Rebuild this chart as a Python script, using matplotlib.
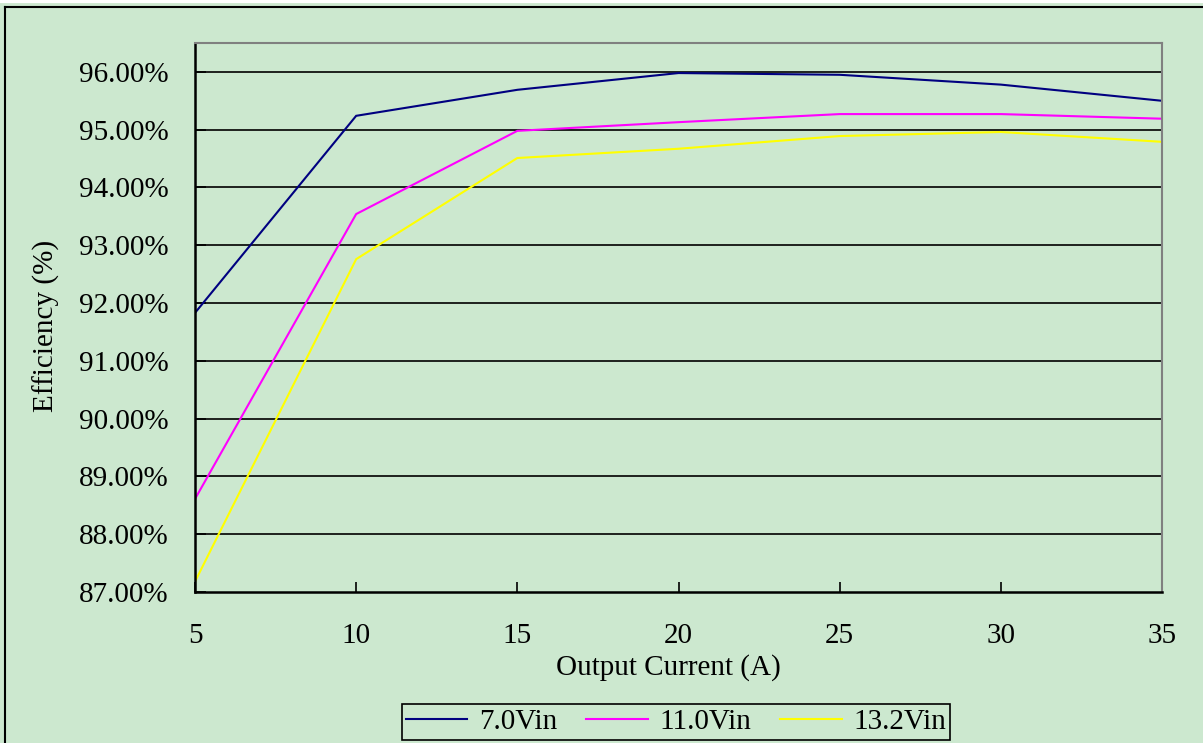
import matplotlib
matplotlib.use("Agg")
import matplotlib.pyplot as plt
from matplotlib.lines import Line2D
from matplotlib.ticker import FuncFormatter

current = [5, 10, 15, 20, 25, 30, 35]
eff_7v0 = [91.83, 95.24, 95.69, 95.98, 95.95, 95.78, 95.50]
eff_11v0 = [88.61, 93.54, 94.98, 95.13, 95.27, 95.27, 95.19]
eff_13v2 = [87.18, 92.76, 94.51, 94.67, 94.89, 94.96, 94.79]
series_labels = ["7.0Vin", "11.0Vin", "13.2Vin"]
series_colors = ["#000080", "#FF00FF", "#FFFF00"]
y_ticks = [87, 88, 89, 90, 91, 92, 93, 94, 95, 96]
x_ticks = [5, 10, 15, 20, 25, 30, 35]

bg = "#CCE8CF"
font = "Liberation Serif"
fs = 21

plt.rcParams["font.family"] = [font, "DejaVu Serif"]

fig = plt.figure(figsize=(12.03, 7.43), dpi=100, facecolor=bg)
W, H = 1203, 743
ax = fig.add_axes([195 / W, 1 - 592 / H, (1162 - 195) / W, (592 - 43) / H])
ax.set_facecolor(bg)

for ys, lab, col in zip([eff_7v0, eff_11v0, eff_13v2], series_labels, series_colors):
    ax.plot(current, ys, color=col, lw=1.5, label=lab, solid_joinstyle="miter")

ax.set_xlim(5, 35)
ax.set_ylim(87, 96.5)
ax.set_yticks(y_ticks)
ax.set_xticks(x_ticks)
ax.yaxis.set_major_formatter(FuncFormatter(lambda v, p: "%.2f%%" % v))
for y in y_ticks[1:]:
    ax.axhline(y, color="black", lw=1.2, zorder=0.5)

ax.tick_params(axis="x", direction="in", length=7, width=1.2, pad=22, labelsize=fs, colors="black")
ax.tick_params(axis="y", direction="in", length=8, width=1.2, pad=19, labelsize=fs, colors="black")

ax.spines["left"].set_color("black")
ax.spines["bottom"].set_color("black")
ax.spines["left"].set_linewidth(1.8)
ax.spines["bottom"].set_linewidth(1.8)
ax.spines["top"].set_color("#808080")
ax.spines["right"].set_color("#808080")
ax.spines["top"].set_linewidth(1.5)
ax.spines["right"].set_linewidth(1.5)

ax.set_xlabel("Output Current (A)", fontsize=fs)
ax.xaxis.set_label_coords(0.49, -0.113)
ax.set_ylabel("Efficiency (%)", fontsize=fs)
ax.yaxis.set_label_coords(-0.140, 0.485)

leg = fig.legend(loc="center", bbox_to_anchor=(676 / W, 1 - 722 / H), ncol=3,
                 fontsize=fs, frameon=True, fancybox=False, handlelength=2.1,
                 handletextpad=0.4, columnspacing=1.0, borderpad=0.15,
                 borderaxespad=0)
leg.get_frame().set_facecolor(bg)
leg.get_frame().set_edgecolor("black")
leg.get_frame().set_linewidth(1.2)
leg.get_frame().set_alpha(1)

fig.add_artist(Line2D([4.5 / W, 4.5 / W], [0, 1 - 7 / H], color="black", lw=1.5, transform=fig.transFigure))
fig.add_artist(Line2D([4.5 / W, 1], [1 - 7 / H, 1 - 7 / H], color="black", lw=1.5, transform=fig.transFigure))
fig.add_artist(Line2D([0, 1], [1 - 1 / H, 1 - 1 / H], color="white", lw=3, transform=fig.transFigure))

fig.savefig("out.png", dpi=100, facecolor=bg)
